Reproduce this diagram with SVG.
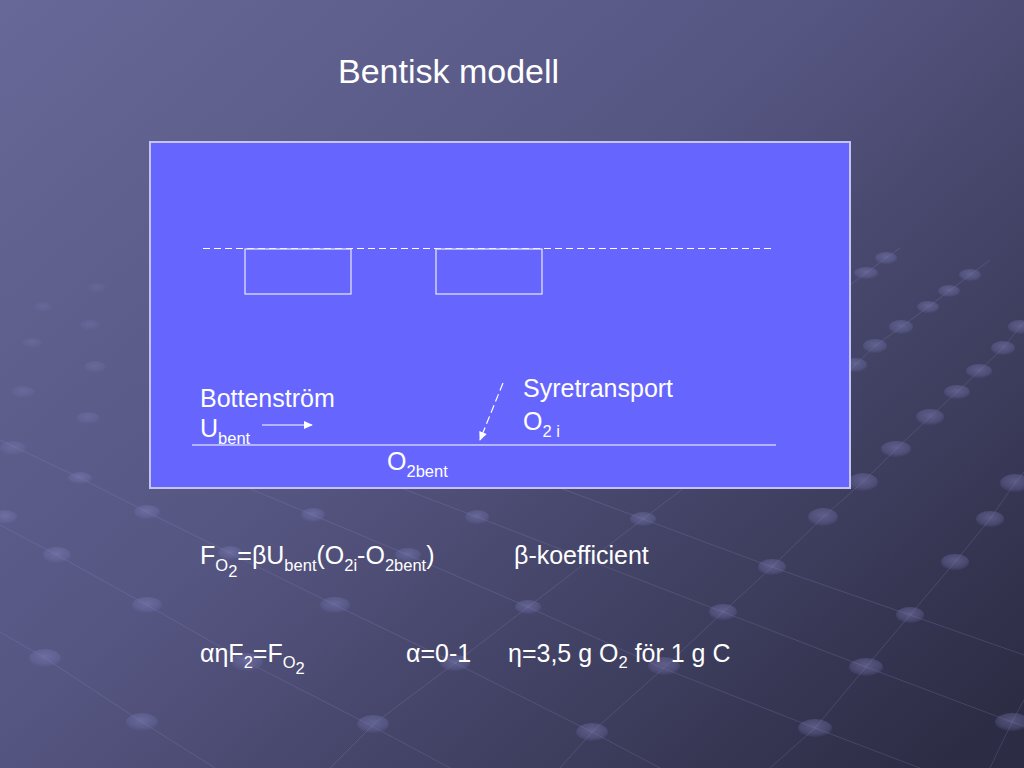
<svg xmlns="http://www.w3.org/2000/svg" width="1024" height="768" viewBox="0 0 1024 768">
<defs>
<linearGradient id="bg" gradientUnits="userSpaceOnUse" x1="0" y1="0" x2="800" y2="900">
<stop offset="0" stop-color="#686898"/>
<stop offset="0.45" stop-color="#565683"/>
<stop offset="1" stop-color="#2c2c44"/>
</linearGradient>
<radialGradient id="dot" cx="0.5" cy="0.4" r="0.6">
<stop offset="0" stop-color="#8c8cc8" stop-opacity="0.42"/>
<stop offset="0.7" stop-color="#7474b0" stop-opacity="0.32"/>
<stop offset="1" stop-color="#6a6aa8" stop-opacity="0.1"/>
</radialGradient>
<marker id="ah" viewBox="0 0 10 10" refX="9" refY="5" markerWidth="9" markerHeight="8" orient="auto" markerUnits="userSpaceOnUse" preserveAspectRatio="none">
<path d="M0,0 L10,5 L0,10 z" fill="#ffffff"/>
</marker>
<style>
.t{font-family:"Liberation Sans",Arial,sans-serif;fill:#ffffff;font-size:25px}
.s{font-size:16.5px}
.ln{stroke:#9a9ad0;stroke-opacity:0.2;stroke-width:1;fill:none}
.d{fill:url(#dot)}
.w{stroke:#ffffff;stroke-width:1.2;fill:none}
</style>
</defs>
<rect width="1024" height="768" fill="url(#bg)"/>
<g id="background-grid">
<polyline class="ln" points="560,768 592,732 667,665 723,612 772,567 822,518 863,482 896,449 930,417 957,392 979,371 1003,348 1024,322"/>
<polyline class="ln" points="770,768 815,728 866,667 910,615 955,562 990,519 1015,483 1024,472"/>
<polyline class="ln" points="990,768 1012,722 1024,700"/>
<polyline class="ln" points="840,384 855,365 875,346 901,327 928,307 949,291 970,275 990,260"/>
<polyline class="ln" points="850,285 866,273 886,258 900,248"/>
<polyline class="ln" points="330,768 375,723 455,663 528,607 643,519 700,476"/>
<polyline class="ln" points="0,525 57,555 147,605 247,662 370,725 450,768"/>
<polyline class="ln" points="0,632 45,658 142,722 215,768"/>
<polyline class="ln" points="0,440 80,478 147,512 230,553 335,605 455,663 592,732 660,768"/>
<polyline class="ln" points="200,468 313,515 408,555 528,607 660,667 815,728 920,768"/>
<polyline class="ln" points="380,480 477,517 723,612 866,667 1012,722 1024,726"/>
<polyline class="ln" points="560,488 643,519 772,567 910,615 1024,655"/>
<ellipse class="d" cx="886" cy="258" rx="11" ry="6"/>
<ellipse class="d" cx="866" cy="273" rx="12" ry="6"/>
<ellipse class="d" cx="970" cy="275" rx="11" ry="6"/>
<ellipse class="d" cx="949" cy="291" rx="11" ry="6"/>
<ellipse class="d" cx="928" cy="307" rx="11" ry="6"/>
<ellipse class="d" cx="901" cy="327" rx="12" ry="7"/>
<ellipse class="d" cx="875" cy="346" rx="12" ry="7"/>
<ellipse class="d" cx="855" cy="365" rx="12" ry="7"/>
<ellipse class="d" cx="1020" cy="327" rx="12" ry="7"/>
<ellipse class="d" cx="1003" cy="348" rx="12" ry="7"/>
<ellipse class="d" cx="979" cy="371" rx="13" ry="7"/>
<ellipse class="d" cx="957" cy="392" rx="13" ry="7"/>
<ellipse class="d" cx="930" cy="417" rx="14" ry="8"/>
<ellipse class="d" cx="896" cy="449" rx="15" ry="8"/>
<ellipse class="d" cx="863" cy="482" rx="15" ry="9"/>
<ellipse class="d" cx="823" cy="517" rx="15" ry="9"/>
<ellipse class="d" cx="1015" cy="483" rx="15" ry="9"/>
<ellipse class="d" cx="990" cy="519" rx="14" ry="8"/>
<ellipse class="d" cx="955" cy="562" rx="14" ry="8"/>
<ellipse class="d" cx="910" cy="615" rx="14" ry="8"/>
<ellipse class="d" cx="866" cy="667" rx="17" ry="9"/>
<ellipse class="d" cx="815" cy="728" rx="17" ry="9"/>
<ellipse class="d" cx="1012" cy="722" rx="17" ry="9"/>
<ellipse class="d" cx="772" cy="567" rx="14" ry="8"/>
<ellipse class="d" cx="723" cy="612" rx="14" ry="8"/>
<ellipse class="d" cx="664" cy="666" rx="16" ry="9"/>
<ellipse class="d" cx="643" cy="519" rx="13" ry="7"/>
<ellipse class="d" cx="477" cy="517" rx="12" ry="7"/>
<ellipse class="d" cx="528" cy="607" rx="13" ry="7"/>
<ellipse class="d" cx="455" cy="663" rx="15" ry="8"/>
<ellipse class="d" cx="592" cy="732" rx="16" ry="9"/>
<ellipse class="d" cx="373" cy="724" rx="16" ry="9"/>
<ellipse class="d" cx="408" cy="555" rx="13" ry="7"/>
<ellipse class="d" cx="335" cy="605" rx="15" ry="8"/>
<ellipse class="d" cx="313" cy="515" rx="12" ry="7"/>
<ellipse class="d" cx="247" cy="662" rx="16" ry="9"/>
<ellipse class="d" cx="230" cy="553" rx="12" ry="7"/>
<ellipse class="d" cx="147" cy="512" rx="13" ry="7"/>
<ellipse class="d" cx="147" cy="605" rx="15" ry="8"/>
<ellipse class="d" cx="142" cy="722" rx="16" ry="9"/>
<ellipse class="d" cx="57" cy="555" rx="14" ry="8"/>
<ellipse class="d" cx="45" cy="658" rx="16" ry="9"/>
<ellipse class="d" cx="5" cy="517" rx="12" ry="7"/>
<ellipse class="d" cx="80" cy="478" rx="12" ry="6"/>
<ellipse class="d" cx="95" cy="367" rx="11" ry="6" opacity="0.6"/>
<ellipse class="d" cx="88" cy="418" rx="12" ry="6" opacity="0.7"/>
<ellipse class="d" cx="23" cy="392" rx="12" ry="6" opacity="0.6"/>
<ellipse class="d" cx="13" cy="448" rx="13" ry="7" opacity="0.7"/>
<ellipse class="d" cx="32" cy="343" rx="10" ry="5" opacity="0.5"/>
<ellipse class="d" cx="90" cy="325" rx="10" ry="5" opacity="0.5"/>
<ellipse class="d" cx="97" cy="288" rx="9" ry="5" opacity="0.4"/>
<ellipse class="d" cx="43" cy="307" rx="9" ry="5" opacity="0.4"/>
</g>
<g id="title">
<text class="t" x="338" y="83" style="font-size:34px">Bentisk modell</text>
</g>
<g id="model-box">
<rect x="150" y="142" width="700" height="346" fill="#6666ff" stroke="#c4c4f4" stroke-width="2"/>
</g>
<g id="water-surface">
<line x1="203" y1="248.5" x2="774" y2="248.5" stroke="#ffffff" stroke-width="1.2" stroke-dasharray="7 4"/>
</g>
<g id="box-1">
<rect x="245" y="249" width="106" height="45" fill="none" stroke="#e8e8ff" stroke-width="1.2"/>
</g>
<g id="box-2">
<rect x="436" y="249" width="106" height="45" fill="none" stroke="#e8e8ff" stroke-width="1.2"/>
</g>
<g id="bottom-line">
<line class="w" x1="192" y1="445" x2="776" y2="445"/>
</g>
<g id="connectors">
<line class="w" x1="262" y1="425" x2="312" y2="425" marker-end="url(#ah)"/>
<line class="w" x1="503" y1="383" x2="480" y2="440" stroke-dasharray="8 4" marker-end="url(#ah)"/>
</g>
<g id="label-bottenstrom">
<text class="t" x="200" y="407">Bottenström</text>
<text class="t" x="200" y="437">U<tspan class="s" dy="7">bent</tspan></text>
</g>
<g id="label-syretransport">
<text class="t" x="523" y="397">Syretransport</text>
<text class="t" x="523" y="430">O<tspan class="s" dy="7">2 i</tspan></text>
</g>
<g id="label-o2bent">
<text class="t" x="387" y="470">O<tspan class="s" dy="7">2bent</tspan></text>
</g>
<g id="formula-1">
<text class="t" x="200" y="564">F<tspan class="s" dy="7">O</tspan><tspan class="s" dy="6">2</tspan><tspan dy="-13">=βU</tspan><tspan class="s" dy="7">bent</tspan><tspan dy="-7">(O</tspan><tspan class="s" dy="7">2i</tspan><tspan dy="-7">-O</tspan><tspan class="s" dy="7">2bent</tspan><tspan dy="-7">)</tspan></text>
<text class="t" x="514" y="564">β-koefficient</text>
</g>
<g id="formula-2">
<text class="t" x="200" y="662">αηF<tspan class="s" dy="6">2</tspan><tspan dy="-6">=F</tspan><tspan class="s" dy="6">O</tspan><tspan class="s" dy="6">2</tspan></text>
<text class="t" x="406" y="662">α=0-1</text>
<text class="t" x="508" y="662">η=3,5 g O<tspan class="s" dy="6">2</tspan><tspan dy="-6"> för 1 g C</tspan></text>
</g>
</svg>
